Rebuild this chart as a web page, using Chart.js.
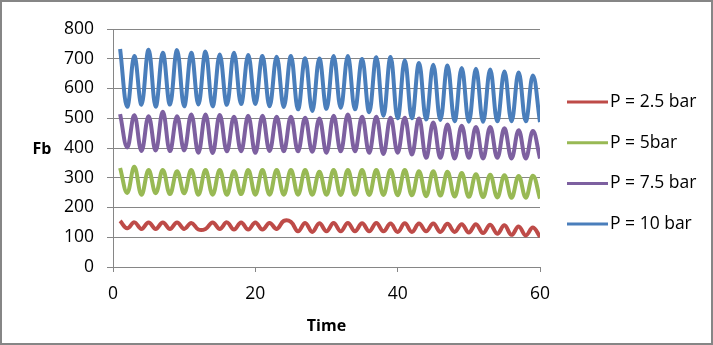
<!DOCTYPE html>
<html>
<head>
<meta charset="utf-8">
<title>Fb vs Time</title>
<script src="https://cdn.jsdelivr.net/npm/chart.js@4.4.1/dist/chart.umd.min.js"></script>
<style>
  html, body { margin: 0; padding: 0; background: #fff; }
  canvas { display: block; }
</style>
</head>
<body>
<canvas id="fbChart" width="713" height="345"></canvas>
<script>
// time steps (x)
const times = [1,2,3,4,5,6,7,8,9,10,11,12,13,14,15,16,17,18,19,20,
               21,22,23,24,25,26,27,28,29,30,31,32,33,34,35,36,37,38,39,40,
               41,42,43,44,45,46,47,48,49,50,51,52,53,54,55,56,57,58,59,60];

// Fb at each pressure
const fb25 = [155,130,150,128,150,128,150,128,150,128,
              148,126,128,150,128,150,126,150,126,150,
              126,148,128,155,152,120,148,118,147,120,
              148,120,148,120,147,120,148,120,146,118,
              147,118,146,120,146,118,145,118,144,116,
              144,114,142,112,140,108,136,106,133,102];
const fb5 = [333,249,337,243,326,248,326,245,322,248,
             326,243,326,243,326,243,322,245,326,243,
             326,243,326,243,326,243,326,243,320,243,
             326,242,326,243,326,242,326,242,326,241,
             326,241,322,238,322,240,320,237,316,236,
             312,235,310,234,308,233,306,233,307,230];
const fb75 = [514,402,510,390,507,392,522,390,507,392,
              513,384,513,383,511,389,505,389,508,384,
              508,390,505,389,505,389,502,387,499,384,
              508,389,513,389,505,384,505,380,502,384,
              502,378,499,367,486,367,479,365,475,367,
              471,365,471,367,466,365,460,365,457,365];
const fb10 = [733,539,709,546,730,539,720,546,729,540,
              720,546,724,540,714,545,720,548,713,548,
              709,540,707,538,709,530,702,524,701,532,
              709,535,709,530,699,520,705,508,706,500,
              695,500,686,496,680,494,677,490,669,488,
              666,488,664,490,657,490,654,490,644,487];

const seriesNames = ['P = 2.5 bar', 'P = 5bar', 'P = 7.5 bar', 'P = 10 bar'];
const seriesColors = ['#BE4B48', '#98B954', '#7D60A0', '#4A7EBB'];
const seriesValues = [fb25, fb5, fb75, fb10];

const gridGray = '#868686';
const FONT = '"Open Sans", "DejaVu Sans", sans-serif';

Chart.defaults.font.family = FONT;
Chart.defaults.color = '#000';

// frame, axis titles and the legend on the right
const decorations = {
  id: 'decorations',
  beforeDraw(chart) {
    const ctx = chart.ctx;
    ctx.save();
    ctx.fillStyle = '#fff';
    ctx.fillRect(0, 0, chart.width, chart.height);
    ctx.restore();
  },
  afterDraw(chart) {
    const ctx = chart.ctx;
    const area = chart.chartArea;
    ctx.save();
    ctx.strokeStyle = gridGray;
    ctx.lineWidth = 2;
    ctx.strokeRect(1, 1, chart.width - 2, chart.height - 2);

    ctx.fillStyle = '#000';
    ctx.font = 'bold 16px ' + FONT;
    ctx.textAlign = 'center';
    ctx.textBaseline = 'middle';
    ctx.fillText('Fb', 42, 149);
    ctx.fillText('Time', (area.left + area.right) / 2, 326);

    ctx.font = '17.5px ' + FONT;
    ctx.textAlign = 'left';
    seriesNames.forEach((name, i) => {
      const y = 102 + i * 40.7;
      ctx.strokeStyle = seriesColors[i];
      ctx.lineWidth = 3;
      ctx.beginPath();
      ctx.moveTo(567, y);
      ctx.lineTo(608, y);
      ctx.stroke();
      ctx.fillText(name, 610, y);
    });
    ctx.restore();
  }
};

new Chart(document.getElementById('fbChart'), {
  type: 'line',
  data: {
    labels: times,
    datasets: seriesValues.map((vals, i) => ({
      label: seriesNames[i],
      data: vals.map((v, j) => ({ x: times[j], y: v })),
      borderColor: seriesColors[i],
      backgroundColor: seriesColors[i],
      borderWidth: 4,
      pointRadius: 0,
      tension: 0.4,
      fill: false,
      order: seriesValues.length - i
    }))
  },
  options: {
    responsive: false,
    animation: false,
    layout: { padding: { left: 0, top: 29, right: 173, bottom: 0 } },
    plugins: {
      legend: { display: false },
      tooltip: { enabled: false }
    },
    scales: {
      x: {
        type: 'linear',
        min: 0,
        max: 60,
        afterFit: (scale) => { scale.height = 78; },
        ticks: { stepSize: 20, font: { size: 17.5 }, padding: 12, maxRotation: 0 },
        grid: { drawOnChartArea: false, drawTicks: true, tickLength: 5, color: gridGray },
        border: { color: gridGray, width: 1 }
      },
      y: {
        min: 0,
        max: 800,
        afterFit: (scale) => { scale.width = 113; },
        ticks: { stepSize: 100, font: { size: 17.5 }, padding: 13 },
        grid: { color: gridGray, tickLength: 6, lineWidth: 1 },
        border: { color: gridGray, width: 1 }
      }
    }
  },
  plugins: [decorations]
});
</script>
</body>
</html>
